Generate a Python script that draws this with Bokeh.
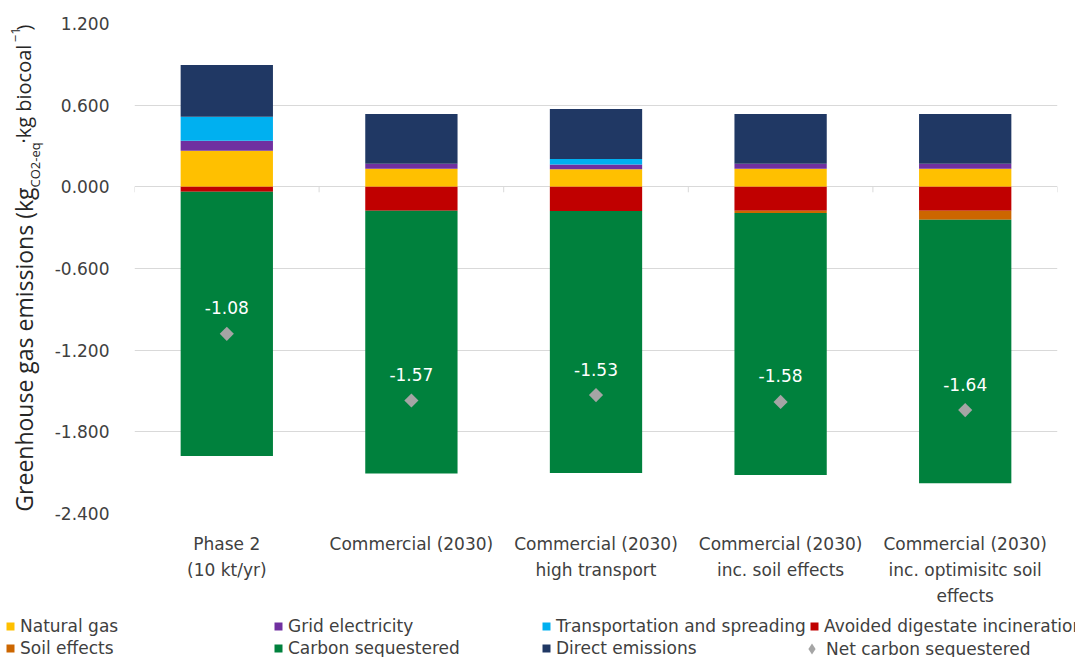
import numpy as np
from bokeh.plotting import figure
from bokeh.layouts import row
from bokeh.models import (ColumnDataSource, Range1d, FixedTicker, NumeralTickFormatter,
                          Legend, LegendItem)
from bokeh.core.properties import value
from bokeh.embed import file_html
from bokeh.resources import INLINE

# ---------------- data ----------------
categories = ["Phase 2\n(10 kt/yr)", "Commercial (2030)", "Commercial (2030)\nhigh transport",
              "Commercial (2030)\ninc. soil effects", "Commercial (2030)\ninc. optimisitc soil\neffects"]
natural_gas = [0.265, 0.132, 0.130, 0.132, 0.132]
grid_electricity = [0.074, 0.037, 0.034, 0.037, 0.037]
transportation = [0.176, 0.0, 0.040, 0.0, 0.0]
direct_emissions = [0.381, 0.367, 0.367, 0.367, 0.367]
avoided_incineration = [-0.037, -0.176, -0.178, -0.176, -0.176]
soil_effects = [0.0, 0.0, 0.0, -0.016, -0.066]
carbon_sequestered = [-1.940, -1.930, -1.925, -1.925, -1.935]
net_carbon = [-1.08, -1.57, -1.53, -1.58, -1.64]
net_labels = ["-1.08", "-1.57", "-1.53", "-1.58", "-1.64"]
y_ticks = [-2.4, -1.8, -1.2, -0.6, 0.0, 0.6, 1.2]

series_names = ["Natural gas", "Grid electricity", "Transportation and spreading",
                "Avoided digestate incineration", "Soil effects", "Carbon sequestered",
                "Direct emissions"]
series_keys = ["ng", "grid", "tr", "av", "soil", "cs", "de"]
net_name = "Net carbon sequestered"
colors = {"ng": "#FFC000", "grid": "#7030A0", "tr": "#00B0F0", "av": "#C00000",
          "soil": "#CC6600", "cs": "#00813D", "de": "#203864", "net": "#A5A5A5"}

FONT = "DejaVu Sans"
TFONT = "Open Sans"
TXT = "#404040"

x = np.arange(len(categories))
data = dict(x=x, ng=natural_gas, grid=grid_electricity, tr=transportation,
            de=direct_emissions, av=avoided_incineration, soil=soil_effects,
            cs=carbon_sequestered, net=net_carbon, lab=net_labels)
src = ColumnDataSource(data)

TW = 46  # width of the strip holding the y-axis title
p = figure(width=1075 - TW, height=610, output_backend="svg", toolbar_location=None,
           x_range=Range1d(-0.5, len(categories) - 0.5), y_range=Range1d(-2.4, 1.2),
           min_border_left=134 - TW, min_border_right=18, min_border_top=23, min_border_bottom=97)
p.outline_line_color = None

pos = p.vbar_stack(["ng", "grid", "tr", "de"], x="x", width=0.5, source=src,
                   color=[colors["ng"], colors["grid"], colors["tr"], colors["de"]], line_color=None)
neg = p.vbar_stack(["av", "soil", "cs"], x="x", width=0.5, source=src,
                   color=[colors["av"], colors["soil"], colors["cs"]], line_color=None)

# small tick marks on the zero line between categories
bounds = np.arange(len(categories) + 1) - 0.5
p.segment(x0=bounds, x1=bounds, y0=np.zeros_like(bounds), y1=np.full_like(bounds, -0.04),
          line_color="#D9D9D9", line_width=1)

p.scatter(x="x", y="net", source=src, marker="square", angle=np.pi / 4, size=10,
          fill_color=colors["net"], line_color=None)
p.text(x="x", y="net", text="lab", source=src, text_color="white", text_font=value(FONT),
       text_font_size="17px", text_align="center", text_baseline="middle", y_offset=-26)

# axes
p.yaxis.ticker = FixedTicker(ticks=y_ticks)
p.yaxis.formatter = NumeralTickFormatter(format="0.000")
p.yaxis.axis_line_color = None
p.yaxis.major_tick_line_color = None
p.yaxis.minor_tick_line_color = None
p.yaxis.major_label_standoff = 19
p.yaxis.major_label_text_font = FONT
p.yaxis.major_label_text_font_size = "17px"
p.yaxis.major_label_text_color = TXT

p.xaxis.ticker = FixedTicker(ticks=list(x))
p.xaxis.major_label_overrides = {int(i): c for i, c in zip(x, categories)}
p.xaxis.axis_line_color = None
p.xaxis.major_tick_line_color = None
p.xaxis.minor_tick_line_color = None
p.xaxis.major_label_standoff = 14
p.xaxis.major_label_text_font = FONT
p.xaxis.major_label_text_font_size = "17px"
p.xaxis.major_label_text_color = TXT
p.xaxis.major_label_text_line_height = 1.3

p.xgrid.grid_line_color = None
p.ygrid.ticker = FixedTicker(ticks=y_ticks)
p.ygrid.grid_line_color = "#D9D9D9"
p.ygrid.grid_line_width = 1

# ---- y-axis title strip (text with subscript / superscript) ----
tf = figure(width=TW, height=610, output_backend="svg", toolbar_location=None,
            x_range=Range1d(0, TW), y_range=p.y_range, x_axis_type=None, y_axis_type=None,
            min_border_left=0, min_border_right=0, min_border_top=23, min_border_bottom=97)
tf.outline_line_color = None
tf.grid.visible = False
title_src = ColumnDataSource(dict(
    t=["Greenhouse gas emissions (kg", "CO2-eq", "·kg biocoal", "−1", ")"],
    y=[-0.005, -0.005, 0.318, 1.062, 1.148],
    x=[23, 34, 23, 15, 23],
    fs=["23px", "13px", "20px", "13px", "20px"],
    al=["right", "left", "left", "left", "left"]))
tf.text(x="x", y="y", text="t", source=title_src, angle=np.pi / 2, text_align="al",
        text_baseline="middle", text_font=value(TFONT), text_font_size="fs", text_color="#262626")

# ---- legend strip ----
lg = figure(width=1075, height=47, output_backend="svg", toolbar_location=None,
            x_range=Range1d(0, 1), y_range=Range1d(0, 1), x_axis_type=None, y_axis_type=None,
            min_border_left=0, min_border_right=0, min_border_top=0, min_border_bottom=0)
lg.outline_line_color = None
lg.grid.visible = False
lsrc = ColumnDataSource(data)
items = []
for name, key in zip(series_names, series_keys):
    r = lg.vbar(x="x", top=key, width=0.0, source=lsrc, fill_color=colors[key], line_color=None)
    items.append(LegendItem(label=name, renderers=[r]))
rnet = lg.scatter(x="x", y="net", source=lsrc, marker="diamond", size=10,
                  fill_color=colors["net"], line_color=None)
legend = Legend(items=items, orientation="horizontal", ncols=4, location=(5, -1),
                glyph_width=10, glyph_height=10, label_standoff=5, label_width=251,
                label_height=20, spacing=2, padding=0, margin=0,
                label_text_font=FONT, label_text_font_size="17px", label_text_color=TXT,
                border_line_color=None, background_fill_alpha=0)
lg.add_layout(legend, "center")
legend2 = Legend(items=[LegendItem(label=net_name, renderers=[rnet])], location=(798, -5),
                 glyph_width=27, glyph_height=27, label_standoff=1, label_height=27,
                 padding=0, margin=0, label_text_font=FONT, label_text_font_size="17px",
                 label_text_color=TXT, border_line_color=None, background_fill_alpha=0)
lg.add_layout(legend2, "center")

open("out.html", "w").write(file_html([row(tf, p), lg], INLINE))
